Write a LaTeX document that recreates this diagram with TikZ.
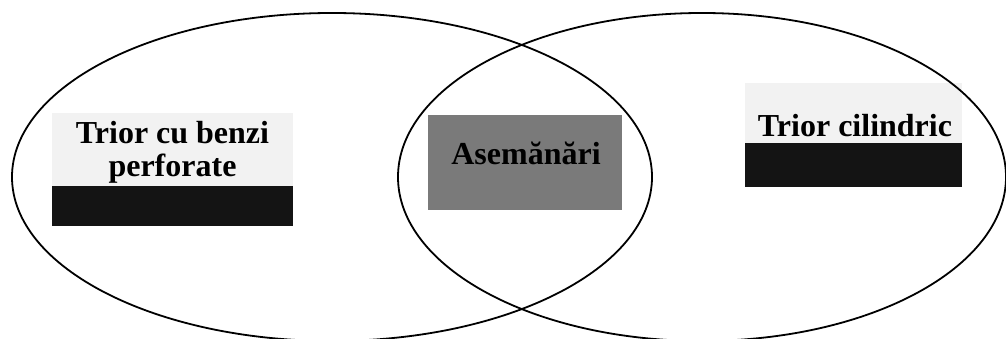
\documentclass[tikz,border=0pt]{standalone}
\usepackage{fontspec}
\setmainfont{Liberation Serif}
\usetikzlibrary{shapes.geometric}
\begin{document}
\begin{tikzpicture}[x=1pt,y=1pt,
  setshape/.style={draw=black, line width=1.8pt, ellipse, inner sep=0pt},
  lightbox/.style={fill=black!5, draw=none},
  darkbar/.style={fill=black!92, draw=none},
  midbox/.style={fill=black!52, draw=none},
  lbl/.style={font=\bfseries\fontsize{32}{28}\selectfont, inner sep=0pt, anchor=base, text=black}]
\useasboundingbox (0,0) rectangle (1006,339);
% boxes (image y -> 339 - y)
\fill[lightbox] (52,226) rectangle (293,153);
\fill[darkbar] (52,153) rectangle (293,113);
\fill[lightbox] (745,256) rectangle (962,196);
\fill[darkbar] (745,196) rectangle (962,152);
\fill[midbox] (428,224) rectangle (622,129);
% sets
\node[setshape, minimum width=640pt, minimum height=328pt] (left) at (332,162) {};
\node[setshape, minimum width=608pt, minimum height=328pt] (right) at (702,162) {};
% labels
\node[lbl] (t1) at (172.5,195) {Trior cu benzi};
\node[lbl] (t2) at (172.5,162) {perforate};
\node[lbl] (t3) at (526,174) {Asemănări};
\node[lbl] (t4) at (855,202) {Trior cilindric};
\end{tikzpicture}
\end{document}
